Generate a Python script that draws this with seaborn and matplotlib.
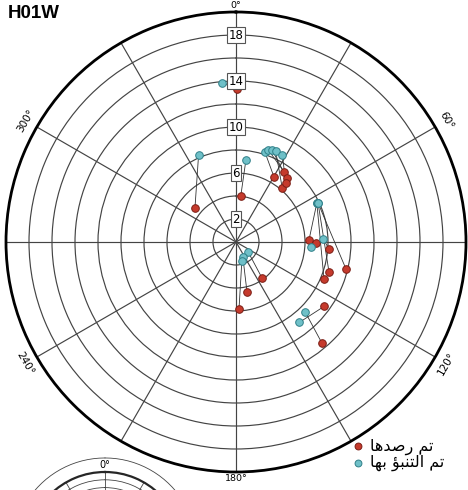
import numpy as np
import pandas as pd
import seaborn as sns
import matplotlib.pyplot as plt

# ------------------ DATA ------------------
# predicted (cyan) and observed (red) positions, paired by index
# angle in degrees clockwise from north, radius in chart units
pred_deg = [354.9, 336.6, 6.9, 17.9, 19.2, 21.4, 23.7, 27.9, 64.3, 64.3,
            64.6, 64.6, 88.0, 93.8, 129.8, 155.0, 162.5, 135.4, 141.8]
pred_r = [13.9, 8.2, 7.2, 8.2, 8.5, 8.6, 8.6, 8.6, 7.8, 7.8,
          7.9, 7.9, 7.6, 6.5, 1.4, 1.4, 1.7, 8.6, 8.9]
obs_deg = [0.3, 309.9, 5.9, 30.3, 34.4, 38.6, 40.4, 40.3, 88.4, 112.8,
           107.9, 103.8, 94.3, 90.7, 144.2, 167.6, 177.4, 139.6, 126.0]
obs_r = [13.3, 4.65, 4.0, 6.55, 7.4, 7.1, 6.2, 6.7, 6.35, 8.3,
         8.5, 9.85, 8.1, 7.0, 3.9, 4.45, 5.8, 11.5, 9.5]

ring_labels = [2, 6, 10, 14, 18]
angle_labels = [0, 60, 120, 180, 240, 300]

title = 'H01W'
# Arabic legend text, written in presentation forms (visual order) so it shapes without raqm
obs_label = '\uFE8E\uFEEB\uFEAA\uFEBB\uFEAD \uFEE2\uFE97'            # تم رصدها
pred_label = '\uFE8E\uFEEC\uFE91 \uFE86\uFE92\uFEE8\uFE98\uFEDF\uFE8D \uFEE2\uFE97'  # تم التنبؤ بها

obs_df = pd.DataFrame({'t': np.deg2rad(obs_deg), 'r': obs_r})
pred_df = pd.DataFrame({'t': np.deg2rad(pred_deg), 'r': pred_r})

# ------------------ STYLE ------------------
sns.set_style('white')
plt.rcParams['font.family'] = ['DejaVu Sans']
plt.rcParams['text.color'] = 'black'

grid_col = '#444444'
red_face, red_edge = '#c53a2c', '#7a1d14'
cyan_face, cyan_edge = '#6fc0c8', '#2f7f88'

fig = plt.figure(figsize=(4.68, 4.90), dpi=100)

# main chart: center (236, 242) px, radius 230 px
W, H = 468, 490
cx, cy, R = 236, 242, 230
ax = fig.add_axes([(cx - R) / W, (H - cy - R) / H, 2 * R / W, 2 * R / H], projection='polar')
ax.set_theta_zero_location('N')
ax.set_theta_direction(-1)
ax.set_rlim(0, 20)
ax.set_thetagrids(np.arange(0, 360, 30), labels=[''] * 12)
ax.set_rgrids(np.arange(2, 20, 2), labels=[''] * 9)
ax.grid(True, color=grid_col, lw=0.85)
ax.spines['polar'].set_linewidth(2.0)
ax.spines['polar'].set_color('black')

# connecting lines
for tp, rp, to, ro in zip(pred_df['t'], pred_df['r'], obs_df['t'], obs_df['r']):
    ax.plot([tp, to], [rp, ro], color='#333333', lw=0.6, zorder=2)

sns.scatterplot(data=obs_df, x='t', y='r', color=red_face, edgecolor=red_edge,
                linewidth=0.7, s=30, zorder=3, label=obs_label, ax=ax)
sns.scatterplot(data=pred_df, x='t', y='r', color=cyan_face, edgecolor=cyan_edge,
                linewidth=0.7, s=30, zorder=4, label=pred_label, ax=ax)
ax.set_xlabel('')
ax.set_ylabel('')

# ring labels along the 0 spoke
for v in ring_labels:
    ax.text(0, v, str(v), ha='center', va='center', fontsize=8.5, zorder=5,
            bbox=dict(boxstyle='square,pad=0.12', fc='white', ec='#555555', lw=0.8))

# angle labels around the rim
for a in angle_labels:
    rot = -a if (a <= 90 or a >= 270) else 180 - a
    rr = 20.55 if a in (0, 180) else 21.15
    fs = 6.8 if a in (0, 180) else 7.5
    ax.text(np.deg2rad(a), rr, f'{a}°', ha='center', va='center', fontsize=fs,
            rotation=rot, rotation_mode='anchor')

ax.legend(loc='upper left', bbox_to_anchor=(0.73, 0.09), frameon=False,
          fontsize=11.5, handletextpad=0.25, labelspacing=0.0, borderpad=0,
          handlelength=1.0, markerscale=0.9)

fig.text(8 / W, 1 - 13 / H, title, fontsize=13.5, fontweight='bold',
         family='Liberation Sans', ha='left', va='center', color='black')

# second chart peeking in at bottom left
cx2, cy2, R2 = 105, 550, 78
ax2 = fig.add_axes([(cx2 - R2) / W, (H - cy2 - R2) / H, 2 * R2 / W, 2 * R2 / H], projection='polar')
ax2.set_theta_zero_location('N')
ax2.set_theta_direction(-1)
ax2.set_rlim(0, 20)
ax2.set_thetagrids(np.arange(0, 360, 30), labels=[''] * 12)
ax2.set_rgrids(np.arange(2, 20, 2), labels=[''] * 9)
ax2.grid(True, color=grid_col, lw=0.6)
ax2.spines['polar'].set_linewidth(1.6)
ring = np.linspace(0, 2 * np.pi, 200)
ax2.plot(ring, np.full_like(ring, 23.6), color=grid_col, lw=0.6, clip_on=False)
ax2.text(0, 21.8, '0°', ha='center', va='center', fontsize=7)

fig.savefig('out.png', dpi=100)
